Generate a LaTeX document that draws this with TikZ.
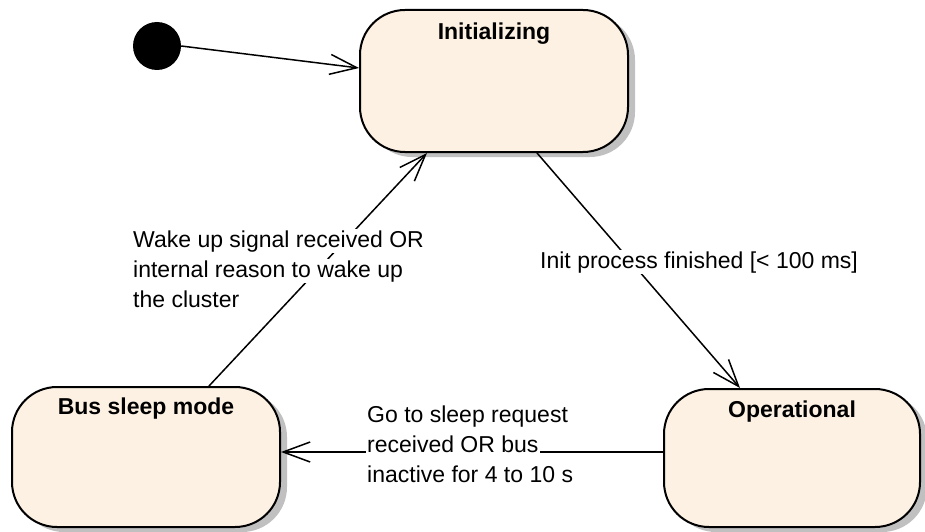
\documentclass[tikz,border=0pt]{standalone}
\usepackage{fontspec}
\setmainfont{Liberation Sans}
\usetikzlibrary{arrows.meta,calc}
\definecolor{statefill}{RGB}{252,241,226}
\definecolor{shadowgray}{RGB}{192,192,192}
\newcommand{\wbox}[1]{{\setlength{\fboxsep}{1pt}\colorbox{white}{#1}}}
\begin{document}
\begin{tikzpicture}[x=1pt,y=-1pt,
  state/.style={draw=black,line width=2pt,fill=statefill,rounded corners=45pt,inner sep=0pt},
  title/.style={anchor=base,yshift=#1,font=\bfseries\fontsize{23}{28}\selectfont},
  conn/.style={line width=1.5pt,-{Straight Barb[length=27pt,width=20pt]}},
  lbl/.style={anchor=base west,align=left,inner sep=0pt,font=\fontsize{23}{30}\selectfont}]
\useasboundingbox (0,0) rectangle (925,532);
% shadows
\fill[shadowgray,rounded corners=45pt] (367,15) rectangle (635,157);
\fill[shadowgray,rounded corners=45pt] (19,392) rectangle (287,532);
\fill[shadowgray,rounded corners=45pt] (671,394) rectangle (927,532);
% states
\node[circle,fill=black,minimum size=48pt,inner sep=0pt] (start) at (157,46) {};
\node[state,minimum width=268pt,minimum height=142pt,
  label={[title=-31pt]north:Initializing}] (ini) at (494,81) {};
\node[state,minimum width=268pt,minimum height=140pt,
  label={[title=-28pt]north:Bus sleep mode}] (bus) at (146,457) {};
\node[state,minimum width=256pt,minimum height=138pt,
  label={[title=-29pt]north:Operational}] (op) at (792,458) {};
% transitions
\draw[conn] (start.east) -- ([yshift=13pt]ini.west);
\draw[conn] ([xshift=43pt]ini.south) -- ([xshift=-52pt]op.north);
\draw[conn] ([xshift=63pt]bus.north) -- ([xshift=-67pt]ini.south);
\draw[conn] ([yshift=6pt]op.west) -- ([yshift=6pt]op.west -| bus.east);
% labels
\node[lbl] (lwake) at (132,307) {\wbox{Wake up signal received OR}\\\wbox{internal reason to wake up}\\\wbox{the cluster}};
\node[lbl] (linit) at (539,268) {\wbox{Init process finished [< 100 ms]}};
\node[lbl] (lsleep) at (366,482) {\wbox{Go to sleep request}\\\wbox{received OR bus}\\\wbox{inactive for 4 to 10 s}};
\end{tikzpicture}
\end{document}
